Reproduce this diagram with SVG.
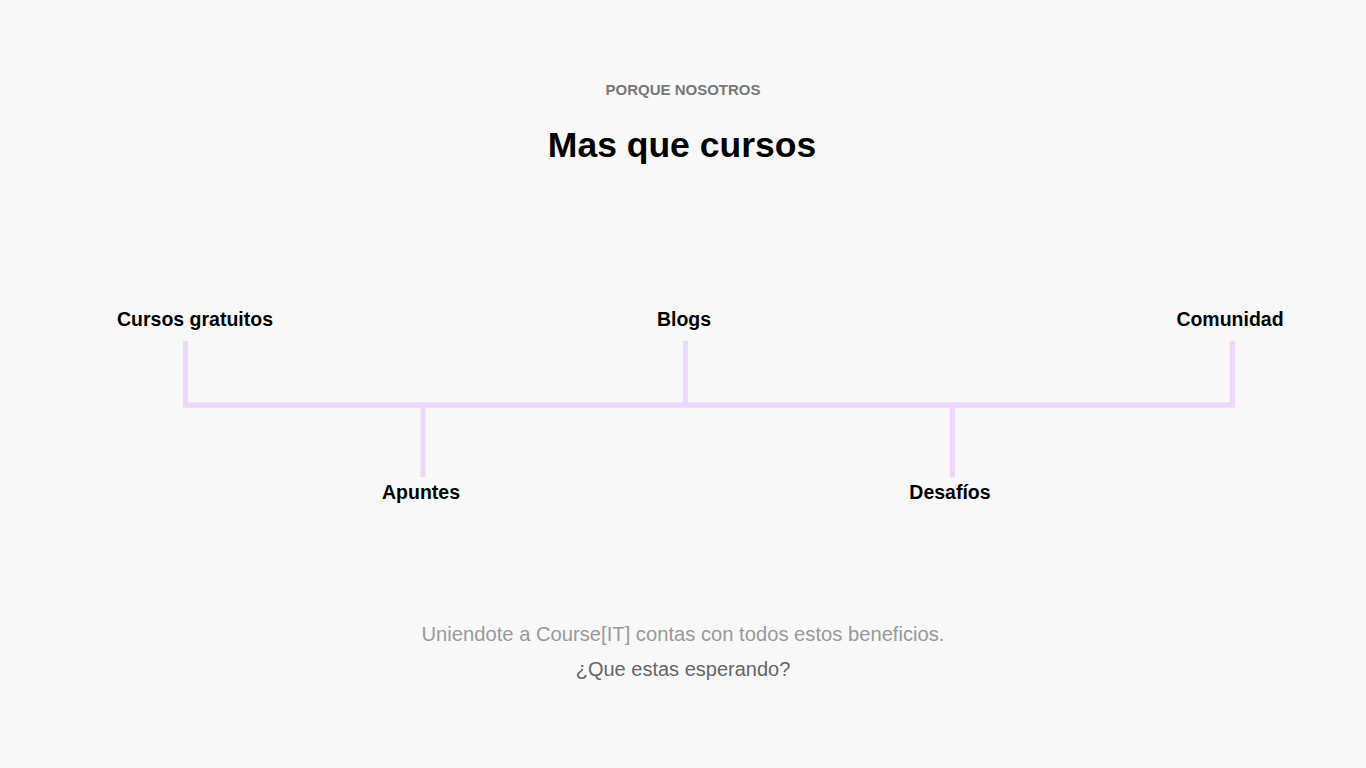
<svg xmlns="http://www.w3.org/2000/svg" width="1366" height="768" viewBox="0 0 1366 768">
<style>
text{font-family:"Liberation Sans",Arial,sans-serif;text-anchor:middle}
.lbl{font-size:19.5px;font-weight:bold;fill:#000}
.ln{stroke:#eed7fc;stroke-width:5;fill:none}
</style>
<rect width="1366" height="768" fill="#f8f8f8"/>
<text x="683" y="95" font-size="15" font-weight="bold" fill="#777">PORQUE NOSOTROS</text>
<text x="682" y="157" font-size="35.5" font-weight="bold" fill="#000">Mas que cursos</text>
<g id="connectors">
<path class="ln" d="M185.5 341V405H1232.5V341"/>
<path class="ln" d="M185.5 405H1232.5" stroke-width="6"/>
<path class="ln" d="M685.5 341V405"/>
<path class="ln" d="M423 405V477"/>
<path class="ln" d="M952.5 405V477"/>
</g>
<g id="n-cursos"><text class="lbl" x="195" y="326">Cursos gratuitos</text></g>
<g id="n-blogs"><text class="lbl" x="684" y="326">Blogs</text></g>
<g id="n-comunidad"><text class="lbl" x="1230" y="326">Comunidad</text></g>
<g id="n-apuntes"><text class="lbl" x="421" y="499">Apuntes</text></g>
<g id="n-desafios"><text class="lbl" x="950" y="499">Desafíos</text></g>
<text x="683" y="641" font-size="20.2" fill="#999">Uniendote a Course[IT] contas con todos estos beneficios.</text>
<text x="683" y="676" font-size="20" fill="#666">¿Que estas esperando?</text>
</svg>
